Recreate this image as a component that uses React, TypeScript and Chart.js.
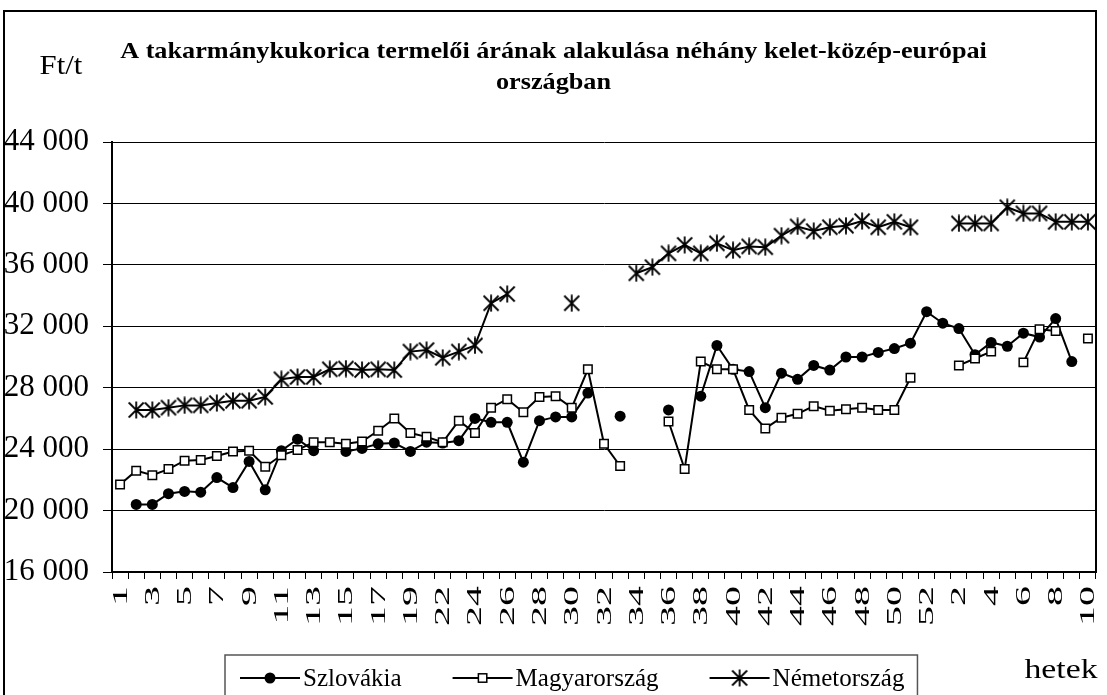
import React, { useEffect, useRef } from 'react';
import { Chart, registerables } from 'chart.js';

Chart.register(...registerables);

// ---- data ----
const weekLabels = [
  '1', '2', '3', '4', '5', '6', '7', '8', '9', '10', '11', '12', '13', '14', '15', '16', '17', '18', '19',
  '21', '22', '23', '24', '25', '26', '27', '28', '29', '30', '31', '32', '33', '34', '35', '36', '37', '38',
  '39', '40', '41', '42', '43', '44', '45', '46', '47', '48', '49', '50', '51', '52',
  '1', '2', '3', '4', '5', '6', '7', '8', '9', '10',
];

const szlovakia = [
  null, 20400, 20400, 21100, 21250, 21200, 22150, 21500, 23200, 21350,
  23900, 24650, 23900, null, 23850, 24050, 24350, 24400, 23850, 24450,
  24400, 24550, 26000, 25750, 25750, 23150, 25850, 26100, 26100, 27650,
  null, 26150, null, null, 26550, null, 27450, 30750, 29200, 29050,
  26700, 28950, 28550, 29450, 29150, 30000, 30000, 30300, 30550, 30900,
  32950, 32200, 31850, 30150, 30950, 30700, 31550, 31300, 32500, 29700,
  null,
];

const magyarorszag = [
  21700, 22600, 22300, 22700, 23250, 23300, 23550, 23850, 23900, 22850,
  23600, 23950, 24450, 24450, 24350, 24500, 25200, 26000, 25050, 24800,
  24450, 25850, 25050, 26700, 27250, 26400, 27400, 27450, 26700, 29200,
  24350, 22900, null, null, 25800, 22700, 29700, 29200, 29200, 26550,
  25350, 26050, 26300, 26800, 26500, 26600, 26700, 26550, 26550, 28650,
  null, null, 29450, 29900, 30350, null, 29650, 31800, 31700, null,
  31200,
];

const nemetorszag = [
  null, 26550, 26550, 26700, 26850, 26850, 27000, 27150, 27150, 27400,
  28550, 28700, 28700, 29200, 29250, 29150, 29200, 29150, 30350, 30450,
  29950, 30350, 30750, 33500, 34100, null, null, null, 33500, null,
  null, null, 35450, 35850, 36750, 37300, 36750, 37400, 36950, 37200,
  37150, 37900, 38500, 38200, 38450, 38550, 38850, 38450, 38800, 38450,
  null, null, 38700, 38700, 38700, 39750, 39350, 39350, 38800, 38800,
  38800,
];

const seriesNames = ['Szlovákia', 'Magyarország', 'Németország'];
const yMin = 16000;
const yMax = 44000;
const yStep = 4000;

const titleLines = ['A takarmánykukorica termelői árának alakulása néhány kelet-közép-európai', 'országban'];
const yUnit = 'Ft/t';
const xUnit = 'hetek';

const FONT = "'Liberation Serif', 'Times New Roman', serif";

function fmt(v: number): string {
  return String(v).replace(/\B(?=(\d{3})+(?!\d))/g, ' ');
}

function makeStar(): HTMLCanvasElement {
  const c = document.createElement('canvas');
  c.width = 18;
  c.height = 18;
  const g = c.getContext('2d')!;
  g.strokeStyle = '#000';
  g.lineWidth = 1.8;
  g.beginPath();
  g.moveTo(9, 0.5); g.lineTo(9, 17.5);
  g.moveTo(1.5, 1.5); g.lineTo(16.5, 16.5);
  g.moveTo(16.5, 1.5); g.lineTo(1.5, 16.5);
  g.stroke();
  return c;
}

function drawMarker(ctx: CanvasRenderingContext2D, kind: number, x: number, y: number, star: HTMLCanvasElement) {
  if (kind === 0) {
    ctx.beginPath();
    ctx.arc(x, y, 5.5, 0, Math.PI * 2);
    ctx.fillStyle = '#000';
    ctx.fill();
  } else if (kind === 1) {
    ctx.fillStyle = '#fff';
    ctx.fillRect(x - 4.2, y - 4.2, 8.4, 8.4);
    ctx.lineWidth = 1.5;
    ctx.strokeStyle = '#000';
    ctx.strokeRect(x - 4.2, y - 4.2, 8.4, 8.4);
  } else {
    ctx.drawImage(star, x - 9, y - 9);
  }
}

function stretchedText(ctx: CanvasRenderingContext2D, text: string, x: number, y: number, sx: number, rot = 0) {
  ctx.save();
  ctx.translate(x, y);
  if (rot) ctx.rotate(rot);
  ctx.scale(sx, 1);
  ctx.fillText(text, 0, 0);
  ctx.restore();
}

export default function App() {
  const ref = useRef<HTMLCanvasElement>(null);

  useEffect(() => {
    document.body.style.margin = '0';
    const star = makeStar();

    const framePlugin = {
      id: 'frameAndLegend',
      afterDraw(chart: any) {
        const { ctx, chartArea } = chart;
        ctx.save();
        ctx.strokeStyle = '#000';
        ctx.lineWidth = 2;
        ctx.beginPath();
        ctx.moveTo(4, 700);
        ctx.lineTo(4, 11);
        ctx.lineTo(chartArea.right, 11);
        ctx.lineTo(chartArea.right, chartArea.bottom);
        ctx.stroke();

        ctx.fillStyle = '#000';
        ctx.textBaseline = 'middle';
        ctx.textAlign = 'center';

        // title
        ctx.font = `bold 23px ${FONT}`;
        stretchedText(ctx, titleLines[0], 553.5, 52, 1.14);
        stretchedText(ctx, titleLines[1], 553.5, 83, 1.14);

        // unit labels
        ctx.font = `28px ${FONT}`;
        stretchedText(ctx, yUnit, 61, 67, 1.1);
        ctx.font = `27px ${FONT}`;
        stretchedText(ctx, xUnit, 1061, 671, 1.25);

        // x tick labels (every second category)
        const xs = chart.scales.x;
        ctx.font = `21px ${FONT}`;
        ctx.textAlign = 'right';
        weekLabels.forEach((lab, i) => {
          if (i % 2 !== 0) return;
          const px = xs.getPixelForTick(i);
          stretchedText(ctx, lab, px + 1, xs.top + 14, 1.9, -Math.PI / 2);
        });

        // legend
        const ly = 678;
        ctx.font = `25px ${FONT}`;
        ctx.textAlign = 'left';
        let x = 240;
        chart.data.datasets.forEach((ds: any, i: number) => {
          ctx.strokeStyle = '#000';
          ctx.lineWidth = 2;
          ctx.beginPath();
          ctx.moveTo(x, ly);
          ctx.lineTo(x + 60, ly);
          ctx.stroke();
          drawMarker(ctx, i, x + 30, ly, star);
          ctx.fillStyle = '#000';
          ctx.fillText(ds.label, x + 63, ly + 1);
          x = x + 63 + ctx.measureText(ds.label).width + 51;
        });
        const right = x - 51 + 13;
        ctx.strokeStyle = '#555';
        ctx.lineWidth = 1.5;
        ctx.strokeRect(225, 655, right - 225, 60);
        ctx.restore();
      },
    };

    const chart = new Chart(ref.current!, {
      type: 'line',
      data: {
        labels: weekLabels,
        datasets: [
          {
            label: seriesNames[0],
            data: szlovakia,
            borderColor: '#000',
            borderWidth: 2,
            pointStyle: 'circle',
            pointRadius: 5.5,
            pointBackgroundColor: '#000',
            pointBorderColor: '#000',
            pointBorderWidth: 0,
            spanGaps: false,
            order: 3,
          },
          {
            label: seriesNames[1],
            data: magyarorszag,
            borderColor: '#000',
            borderWidth: 2,
            pointStyle: 'rect',
            pointRadius: 6,
            pointBackgroundColor: '#fff',
            pointBorderColor: '#000',
            pointBorderWidth: 1.5,
            spanGaps: false,
            order: 2,
          },
          {
            label: seriesNames[2],
            data: nemetorszag,
            borderColor: '#000',
            borderWidth: 2,
            pointStyle: star as any,
            pointRadius: 9,
            spanGaps: false,
            order: 1,
          },
        ],
      },
      options: {
        responsive: false,
        animation: false,
        layout: { padding: { top: 142, left: 0, right: 4, bottom: 39 } },
        plugins: {
          legend: { display: false },
          tooltip: { enabled: false },
          title: { display: false },
        },
        scales: {
          x: {
            offset: true,
            ticks: { display: false, autoSkip: false },
            grid: { offset: true, drawOnChartArea: false, drawTicks: true, tickLength: 7, color: '#000', lineWidth: 1 },
            border: { color: '#000', width: 2 },
            afterFit: (s: any) => { s.height = 84; },
          },
          y: {
            min: yMin,
            max: yMax,
            ticks: {
              stepSize: yStep,
              color: '#000',
              padding: 14,
              font: { family: FONT, size: 31 },
              callback: (v: any) => fmt(Number(v)),
            },
            grid: { color: '#000', lineWidth: 1, tickLength: 9, tickColor: '#000' },
            border: { color: '#000', width: 2 },
            afterFit: (s: any) => { s.width = 112; },
          },
        },
      },
      plugins: [framePlugin],
    });
    return () => chart.destroy();
  }, []);

  return (
    <div style={{ position: 'absolute', left: 0, top: 0, width: 1107, height: 695, background: '#fff' }}>
      <canvas ref={ref} width={1107} height={695} />
    </div>
  );
}
